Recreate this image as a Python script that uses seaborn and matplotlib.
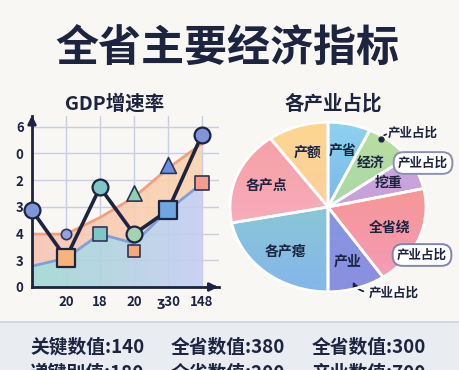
import numpy as np
import matplotlib
matplotlib.use("Agg")
import matplotlib.pyplot as plt
import seaborn as sns
from matplotlib.colors import LinearSegmentedColormap
from matplotlib.patches import Rectangle

# ---- data ----
x_idx = [0, 1, 2, 3, 4, 5]
x_labels = ["20", "18", "20", "ʒ30", "148"]
y_labels = ["0", "3", "4", "3", "2", "0", "6"]

main_line = [2.87, 1.08, 3.73, 1.98, 2.87, 5.7]
main_markers = ["o", "s", "o", "o", "s", "o"]
main_colors = ["#7f95da", "#f8b27c", "#7ec7c6", "#a3d3b2", "#6ea6e2", "#7f95da"]

orange_line = [1.98, 1.98, 2.6, 3.36, 4.44, 5.37]
blue_line = [0.78, 1.08, 1.98, 1.64, 2.87, 3.88]

extra_x = [1, 2, 3, 3, 4, 5]
extra_y = [1.98, 1.98, 3.5, 1.34, 4.55, 3.88]
extra_markers = ["o", "s", "^", "s", "^", "s"]
extra_colors = ["#8fa3e0", "#7ec7c6", "#8fd0b0", "#f8a878", "#6c8fe0", "#f79a90"]
extra_sizes = [55, 90, 120, 80, 130, 110]

pie_labels = ["产省", "经济", "挖重", "全省绕", "产业", "各产瘪", "各产点", "产额"]
pie_values = [7, 8, 6.5, 19, 9.5, 22, 18, 10]
pie_top = ["#8fd2f0", "#bcdf9e", "#d3aadd", "#f8937c", "#78a2e4", "#92d8bf", "#f69ea2", "#fdd790"]
pie_bot = ["#5f9ee0", "#96cfb4", "#b797d8", "#f49cbc", "#8d8ee0", "#84b6ec", "#f7b6cc", "#fbc6aa"]

bottom_row1 = ["关键数值:140", "全省数值:380", "全省数值:300"]
bottom_row2 = ["递键别值:180", "全省数值:200", "产业数值:700"]

navy = "#1c2440"

sns.set_theme(style="white")
plt.rcParams["font.family"] = ["Noto Sans CJK SC", "DejaVu Sans"]

W, H = 460, 370
fig = plt.figure(figsize=(4.6, 3.7), dpi=100, facecolor="#f8f7f3")


def fx(px):
    return px / W


def fy(py):
    return 1 - py / H


# bottom band
fig.add_artist(Rectangle((0, 0), 1, fy(322), transform=fig.transFigure,
                         fc="#e9ecf1", ec="none", zorder=0))
fig.add_artist(plt.Line2D([0, 1], [fy(322), fy(322)], transform=fig.transFigure,
                          color="#cdd2dc", lw=1.2))

fig.text(fx(227), fy(49), "全省主要经济指标", ha="center", va="center",
         fontsize=31, fontweight="bold", color=navy)

# ---- left: line chart ----
ax = fig.add_axes([fx(32), 1 - 287 / H, 187 / W, 171 / H])
ax.set_facecolor("none")


def grad_fill(ax, y_top, y_bot, c_left, c_right, alpha):
    poly = ax.fill_between(x_idx, y_top, y_bot, color="none", lw=0)
    cmap = LinearSegmentedColormap.from_list("g", [c_left, c_right])
    img = ax.imshow(np.linspace(0, 1, 256).reshape(1, -1), cmap=cmap,
                    aspect="auto", extent=[0, 5, 0, 6.4], alpha=alpha, zorder=1)
    img.set_clip_path(poly.get_paths()[0], ax.transData)


grad_fill(ax, orange_line, blue_line, "#f9c4b6", "#fbd4ad", 0.9)
grad_fill(ax, blue_line, [0] * 6, "#a0d9d3", "#c6cdf3", 0.9)
ax.set_xlim(0, 5.5)
ax.set_ylim(0, 6.4)

sns.lineplot(x=x_idx, y=orange_line, ax=ax, color="#f3a07f", lw=2, zorder=2)
sns.lineplot(x=x_idx, y=blue_line, ax=ax, color="#7f9fd8", lw=2, zorder=2)
sns.lineplot(x=x_idx, y=main_line, ax=ax, color=navy, lw=2.6, zorder=4)

for xi, yi, m, c, s in zip(extra_x, extra_y, extra_markers, extra_colors, extra_sizes):
    ax.scatter(xi, yi, marker=m, s=s, color=c, edgecolor="#2c3558", lw=1.2,
               zorder=3, clip_on=False)
for xi, yi, m, c in zip(x_idx, main_line, main_markers, main_colors):
    ax.scatter(xi, yi, marker=m, s=130 if m == "o" else 150, color=c,
               edgecolor=navy, lw=1.6, zorder=5, clip_on=False)

ax.set_xticks(range(1, 6))
ax.set_xticklabels(x_labels)
ax.set_yticks(range(0, 7))
ax.set_yticklabels(y_labels)
ax.tick_params(length=0, labelsize=9.5, labelcolor=navy, pad=6)
for t in ax.get_xticklabels() + ax.get_yticklabels():
    t.set_fontweight("bold")
ax.grid(True, color="#c9cee2", lw=1)
for s in ["top", "right"]:
    ax.spines[s].set_visible(False)
for s in ["left", "bottom"]:
    ax.spines[s].set_color(navy)
    ax.spines[s].set_linewidth(2)
ax.annotate("", xy=(1.01, 0), xytext=(0.95, 0), xycoords="axes fraction",
            arrowprops=dict(arrowstyle="-|>", color=navy, lw=2, mutation_scale=12))
ax.annotate("", xy=(0, 1.02), xytext=(0, 0.95), xycoords="axes fraction",
            arrowprops=dict(arrowstyle="-|>", color=navy, lw=2, mutation_scale=12))

fig.text(fx(115), fy(104), "GDP增速率", ha="center", va="center",
         fontsize=14, fontweight="bold", color=navy)

# ---- right: pie chart ----
ax2 = fig.add_axes([fx(328 - 122.5), 1 - (207 + 106) / H, 245 / W, 212 / H])
wedges, texts = ax2.pie(pie_values, labels=pie_labels, startangle=90,
                        counterclock=False, labeldistance=0.68,
                        wedgeprops=dict(edgecolor="white", linewidth=2),
                        textprops=dict(fontsize=10, fontweight="bold", color=navy,
                                       ha="center", va="center", zorder=6))
for w, c1, c2 in zip(wedges, pie_top, pie_bot):
    w.set_fill(False)
    w.set_zorder(4)
    cmap = LinearSegmentedColormap.from_list("w", [c2, c1])
    img = ax2.imshow(np.linspace(0, 1, 256).reshape(-1, 1), cmap=cmap,
                     origin="lower", extent=[-1, 1, -1, 1], zorder=2)
    img.set_clip_path(w)
ax2.set_aspect("auto")
ax2.set_xlim(-1.25, 1.25)
ax2.set_ylim(-1.25, 1.25)
ax2.axis("off")

fig.text(fx(333), fy(104), "各产业占比", ha="center", va="center",
         fontsize=14, fontweight="bold", color=navy)

ann = dict(fontsize=9, fontweight="bold", color=navy, ha="center", va="center")
fig.text(fx(413), fy(133), "产业占比", **ann)
fig.add_artist(plt.Line2D([fx(381)], [fy(139)], marker="o", ms=3.5, color=navy,
                          transform=fig.transFigure))
ax2.annotate("", xy=(fx(381), fy(139)), xytext=(fx(389), fy(134)),
             xycoords="figure fraction", textcoords="figure fraction",
             arrowprops=dict(arrowstyle="-", color=navy, lw=1.2,
                             connectionstyle="arc3,rad=0.3"))
fig.text(fx(423), fy(163), "产业占比",
         bbox=dict(boxstyle="round,pad=0.35,rounding_size=0.8", fc="white",
                   ec="#8c90b2", lw=1.4), **ann)
fig.text(fx(422), fy(255), "产业占比",
         bbox=dict(boxstyle="round,pad=0.35,rounding_size=0.8", fc="white",
                   ec="#7f86b5", lw=1.4), **ann)
fig.text(fx(394), fy(293), "产业占比", **ann)
ax2.annotate("", xy=(fx(352), fy(279)), xytext=(fx(366), fy(292)),
             xycoords="figure fraction", textcoords="figure fraction",
             arrowprops=dict(arrowstyle="-|>", color=navy, lw=1.3,
                             mutation_scale=7, connectionstyle="arc3,rad=-0.3"))

# ---- bottom key values (second row cut by the bottom edge, as in the source) ----
for i, (a, b) in enumerate(zip(bottom_row1, bottom_row2)):
    x0 = [30, 171, 312][i]
    fig.text(fx(x0), fy(347), a, ha="left", va="center", fontsize=13.5,
             fontweight="bold", color=navy)
    fig.text(fx(x0), fy(373), b, ha="left", va="center", fontsize=13.5,
             fontweight="bold", color=navy)

fig.savefig("out.png", dpi=100, facecolor=fig.get_facecolor())
